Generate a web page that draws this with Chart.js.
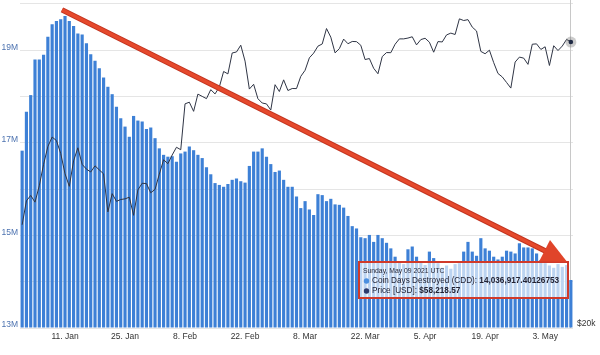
<!DOCTYPE html>
<html><head><meta charset="utf-8">
<script src="https://cdn.jsdelivr.net/npm/chart.js@4/dist/chart.umd.min.js"></script>
<style>html,body{margin:0;padding:0;background:#fff;}#wrap{position:relative;width:600px;height:355px;}</style>
</head><body><div id="wrap"><canvas id="c"></canvas></div>
<script>
// ---- data ----
const monthNames = ['Jan','Feb','Mar','Apr','May','Jun','Jul','Aug','Sep','Oct','Nov','Dec'];
const weekdayNames = ['Sunday','Monday','Tuesday','Wednesday','Thursday','Friday','Saturday'];
const tickLabels = ['11. Jan','25. Jan','8. Feb','22. Feb','8. Mar','22. Mar','5. Apr','19. Apr','3. May'];
const cddTickLabels = [13, 15, 17, 19];
const priceTickValues = [20000];

// Coin Days Destroyed, millions (Jan 1 - May 9 2021)
const cddMillions = [
  16.83,17.67,18.03,18.80,18.80,18.90,19.29,19.56,19.63,19.67,
  19.74,19.63,19.52,19.36,19.34,19.15,18.91,18.77,18.61,18.41,
  18.21,18.05,17.78,17.53,17.35,17.13,17.58,17.48,17.46,17.30,
  17.33,17.10,16.88,16.74,16.70,16.71,16.59,16.77,16.81,16.92,
  16.84,16.74,16.67,16.47,16.32,16.13,16.09,16.05,16.11,16.20,
  16.23,16.17,16.14,16.50,16.81,16.81,16.88,16.70,16.54,16.37,
  16.40,16.20,16.05,16.05,15.84,15.59,15.74,15.56,15.44,15.89,
  15.87,15.74,15.79,15.67,15.66,15.60,15.42,15.20,15.15,14.96,
  14.94,15.01,14.86,15.01,14.94,14.84,14.72,14.54,14.42,14.38,
  14.70,14.76,14.54,14.42,14.36,14.65,14.51,14.40,14.30,14.35,
  14.28,14.38,14.40,14.65,14.86,14.65,14.56,14.94,14.72,14.67,
  14.54,14.48,14.54,14.67,14.65,14.61,14.83,14.74,14.74,14.72,
  14.61,14.47,14.40,14.35,14.30,14.38,14.32,14.36,14.03691740126753
];

// Price, USD
const priceUsd = [
  29374,32127,32782,31971,33992,36824,39371,40797,40254,38356,
  35566,33922,37316,39187,36825,36178,35792,36630,36070,35547,
  30826,33005,32067,32290,32367,32569,30433,33467,34316,34269,33115,
  33538,35510,37473,36927,38144,39266,38904,46196,46482,44919,
  47910,47504,47106,48718,47945,49200,52149,51679,55888,56100,
  57539,54208,48825,49706,47094,46339,46188,45137,
  49631,48378,50538,48562,48927,48912,51207,52376,54885,55851,
  57333,57805,61243,59302,55907,56804,58870,57858,58346,58313,
  57523,54529,54738,52774,51704,55137,55974,55947,57750,58918,58918,
  59095,59384,57604,58758,59057,58193,56048,58323,58245,59794,
  60204,59893,63504,63110,63315,61572,60684,56216,55724,56474,
  53907,51763,51093,50050,49004,54022,55033,54824,53556,57750,
  57828,56632,57200,53333,57424,56397,57356,58804,58218.57
];

const categories = cddMillions.map((_, i) => {
  const d = new Date(Date.UTC(2021, 0, 1 + i));
  return d.getUTCDate() + '. ' + monthNames[d.getUTCMonth()];
});
const hoverIndex = cddMillions.length - 1;

// annotation anchors in data units: [category index, CDD millions]
const arrowFrom = [9.3, 19.87];
const arrowTo = [127.1, 14.43];
const tooltipTopValue = 14.43;

const FONT = "'Liberation Sans', Arial, Helvetica, sans-serif";

function fmtCdd(millions) {
  const raw = String(Math.round(millions * 1e14) / 1e8);
  const parts = raw.split('.');
  return parts[0].replace(/\B(?=(\d{3})+(?!\d))/g, ',') + (parts[1] ? '.' + parts[1] : '');
}
function fmtPrice(v) {
  return '$' + v.toLocaleString('en-US', {minimumFractionDigits: 2, maximumFractionDigits: 2});
}

const overlay = {
  id: 'overlay',
  beforeDraw(chart) {
    const ctx = chart.ctx;
    ctx.save(); ctx.fillStyle = '#fff'; ctx.fillRect(0, 0, chart.width, chart.height); ctx.restore();
  },
  beforeDatasetsDraw(chart) {
    const {ctx, chartArea, scales} = chart;
    const x = Math.round(scales.x.getPixelForValue(hoverIndex)) - 0.5;
    ctx.save();
    ctx.strokeStyle = '#c8c8c8'; ctx.lineWidth = 1;
    ctx.beginPath(); ctx.moveTo(x, chartArea.top); ctx.lineTo(x, chartArea.bottom); ctx.stroke();
    ctx.restore();
  },
  afterDraw(chart) {
    const {ctx, scales} = chart;
    const xs = scales.x, ys = scales.y, yp = scales.y1;
    const hx = xs.getPixelForValue(hoverIndex);
    const hy = yp.getPixelForValue(priceUsd[hoverIndex]);
    ctx.save();
    // hover marker
    ctx.fillStyle = 'rgba(110,110,110,0.35)';
    ctx.beginPath(); ctx.arc(hx, hy, 5.5, 0, Math.PI * 2); ctx.fill();
    ctx.fillStyle = '#1f2a44';
    ctx.beginPath(); ctx.arc(hx, hy, 2.3, 0, Math.PI * 2); ctx.fill();

    // tooltip
    const right = Math.round(hx) - 3, left = right - 209;
    const top = Math.round(ys.getPixelForValue(tooltipTopValue)), bottom = top + 36;
    ctx.fillStyle = 'rgba(255,255,255,0.66)';
    ctx.fillRect(left, top, right - left, bottom - top);
    ctx.strokeStyle = '#d03a2a'; ctx.lineWidth = 2;
    ctx.strokeRect(left, top, right - left, bottom - top);

    const d = new Date(Date.UTC(2021, 0, 1 + hoverIndex));
    const title = weekdayNames[d.getUTCDay()] + ', ' + monthNames[d.getUTCMonth()] + ' ' +
      String(d.getUTCDate()).padStart(2, '0') + ' ' + d.getUTCFullYear() + ' UTC';
    ctx.fillStyle = '#2a2a3a';
    ctx.textBaseline = 'middle'; ctx.textAlign = 'left';
    ctx.font = '6.8px ' + FONT;
    ctx.fillText(title, left + 4, top + 9.5);

    const rows = [
      ['#4a8fe0', 'Coin Days Destroyed (CDD): ', fmtCdd(cddMillions[hoverIndex]), top + 19],
      ['#2c3a6e', 'Price [USD]: ', fmtPrice(priceUsd[hoverIndex]), top + 29]
    ];
    rows.forEach(([col, label, val, y]) => {
      ctx.fillStyle = col;
      ctx.beginPath(); ctx.arc(left + 7.5, y, 2.7, 0, Math.PI * 2); ctx.fill();
      ctx.fillStyle = '#222233';
      ctx.font = '8.2px ' + FONT;
      ctx.fillText(label, left + 13, y);
      const w = ctx.measureText(label).width;
      ctx.font = 'bold 8.2px ' + FONT;
      ctx.fillText(val, left + 13 + w, y);
    });

    // arrow
    const x0 = xs.getPixelForValue(arrowFrom[0]), y0 = ys.getPixelForValue(arrowFrom[1]);
    const x1 = xs.getPixelForValue(arrowTo[0]), y1 = ys.getPixelForValue(arrowTo[1]);
    const ang = Math.atan2(y1 - y0, x1 - x0), c = Math.cos(ang), s = Math.sin(ang);
    const headLen = 25, headHalf = 12;
    const bx = x1 - headLen * c, by = y1 - headLen * s;
    ctx.lineCap = 'butt';
    ctx.strokeStyle = '#c2331f'; ctx.lineWidth = 5.5;
    ctx.beginPath(); ctx.moveTo(x0, y0); ctx.lineTo(bx + 2 * c, by + 2 * s); ctx.stroke();
    ctx.strokeStyle = '#e5492c'; ctx.lineWidth = 3.5;
    ctx.beginPath(); ctx.moveTo(x0, y0); ctx.lineTo(bx + 2 * c, by + 2 * s); ctx.stroke();
    ctx.fillStyle = '#e0442a';
    ctx.beginPath();
    ctx.moveTo(x1, y1);
    ctx.lineTo(bx + headHalf * s, by - headHalf * c);
    ctx.lineTo(bx - headHalf * s, by + headHalf * c);
    ctx.closePath(); ctx.fill();
    ctx.restore();
  }
};

new Chart(document.getElementById('c'), {
  data: {
    labels: categories,
    datasets: [
      {
        type: 'line', label: 'Price [USD]', data: priceUsd, yAxisID: 'y1', order: 0,
        borderColor: '#2f3545', borderWidth: 1, pointRadius: 0, tension: 0
      },
      {
        type: 'bar', label: 'Coin Days Destroyed (CDD)', data: cddMillions, yAxisID: 'y', order: 1,
        backgroundColor: '#3d80d6', barPercentage: 0.74, categoryPercentage: 1, base: 13
      }
    ]
  },
  options: {
    responsive: true, maintainAspectRatio: false, animation: false, devicePixelRatio: 1,
    events: [],
    layout: {padding: {left: 0, right: 0, top: 0, bottom: 12}},
    plugins: {legend: {display: false}, tooltip: {enabled: false}},
    scales: {
      x: {
        type: 'category', offset: true,
        grid: {display: false, drawTicks: false}, border: {display: false},
        ticks: {
          autoSkip: false, maxRotation: 0, padding: 4, color: '#333',
          font: {family: FONT, size: 8.5},
          callback: function (v) { return this.getLabelForValue(v); }
        },
        afterBuildTicks: (axis) => {
          axis.ticks = axis.ticks.filter(t => tickLabels.includes(categories[t.value]));
        },
        afterFit: (s) => { s.height = 15; s.paddingLeft = 0; s.paddingRight = 0; }
      },
      y: {
        type: 'linear', position: 'left', min: 13, max: 20.084, z: 1,
        grid: {color: 'rgba(0,0,0,0.1)', drawTicks: false}, border: {display: false},
        ticks: {
          stepSize: 1, includeBounds: false, padding: 2, labelOffset: -3, color: '#4c72b0',
          font: {family: FONT, size: 8.5},
          callback: (v) => cddTickLabels.includes(v) ? v + 'M' : ''
        },
        afterFit: (s) => { s.width = 20; s.paddingTop = 0; s.paddingBottom = 0; }
      },
      y1: {
        type: 'logarithmic', position: 'right', min: 19958, max: 68150,
        grid: {display: false, drawTicks: false}, border: {display: false},
        afterBuildTicks: (axis) => { axis.ticks = priceTickValues.map(v => ({value: v})); },
        ticks: {
          padding: 4, labelOffset: -4, color: '#333',
          font: {family: FONT, size: 8.5},
          callback: (v) => '$' + (v / 1000) + 'k'
        },
        afterFit: (s) => { s.width = 27; s.paddingTop = 0; s.paddingBottom = 0; }
      }
    }
  },
  plugins: [overlay]
});
</script>
</body></html>
